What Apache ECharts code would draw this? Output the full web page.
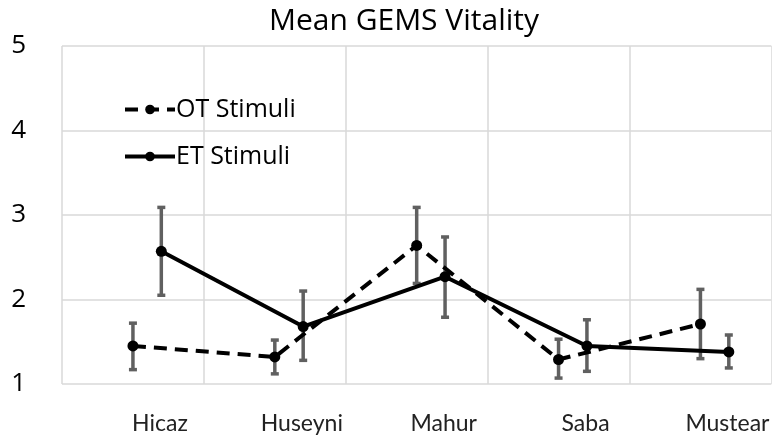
<!DOCTYPE html>
<html>
<head>
<meta charset="utf-8">
<script src="https://cdn.jsdelivr.net/npm/echarts@6/dist/echarts.min.js"></script>
<style>html,body{margin:0;padding:0;background:#fff;}#c{width:772px;height:441px;}</style>
</head>
<body>
<div id="c"></div>
<script>
var categories = ['Hicaz', 'Huseyni', 'Mahur', 'Saba', 'Mustear'];
var otMean = [1.45, 1.32, 2.64, 1.29, 1.71];
var otLow  = [1.17, 1.12, 2.19, 1.07, 1.30];
var otHigh = [1.72, 1.52, 3.09, 1.53, 2.12];
var etMean = [2.57, 1.68, 2.27, 1.45, 1.38];
var etLow  = [2.05, 1.28, 1.79, 1.15, 1.19];
var etHigh = [3.09, 2.10, 2.74, 1.76, 1.58];
var yTicks = [1, 2, 3, 4, 5];

var OT_OFFSET = 0.5, ET_OFFSET = 0.7;
function pts(mean, off) { return mean.map(function (v, i) { return [i + off, v]; }); }
function bars(low, high, off) { return low.map(function (v, i) { return [i + off, v, high[i]]; }); }

function errRender(params, api) {
  var x = api.value(0);
  var lo = api.coord([x, api.value(1)]);
  var hi = api.coord([x, api.value(2)]);
  var cap = 4;
  var st = { stroke: '#606060', lineWidth: 3.5 };
  return {
    type: 'group',
    children: [
      { type: 'line', shape: { x1: lo[0], y1: lo[1], x2: hi[0], y2: hi[1] }, style: st },
      { type: 'line', shape: { x1: lo[0] - cap, y1: lo[1], x2: lo[0] + cap, y2: lo[1] }, style: st },
      { type: 'line', shape: { x1: hi[0] - cap, y1: hi[1], x2: hi[0] + cap, y2: hi[1] }, style: st }
    ]
  };
}

var chart = echarts.init(document.getElementById('c'), null, { renderer: 'canvas' });
chart.setOption({
  animation: false,
  backgroundColor: '#fff',
  title: {
    text: 'Mean GEMS Vitality',
    left: 399, top: 1, textAlign: 'center',
    textStyle: { fontFamily: 'Open Sans', fontSize: 30, fontWeight: 'normal', color: '#000' }
  },
  legend: {
    orient: 'vertical',
    left: 118, top: 92,
    itemWidth: 50, itemHeight: 12, itemGap: 22,
    lineStyle: { width: 4 },
    textStyle: { fontFamily: 'Open Sans', fontSize: 25, color: '#000', padding: [0, 0, 0, -4] },
    data: ['OT Stimuli', 'ET Stimuli']
  },
  grid: { left: 62, right: -4, top: 46, bottom: 57 },
  xAxis: [{
    type: 'value', min: 0, max: 5, interval: 1,
    axisLine: { show: false }, axisTick: { show: false }, axisLabel: { show: false },
    splitLine: { show: true, lineStyle: { color: '#d9d9d9', width: 1.5 } }
  }, {
    type: 'category', data: categories, boundaryGap: true, position: 'bottom',
    axisLine: { show: false }, axisTick: { show: false }, splitLine: { show: false },
    axisLabel: { margin: 28, fontFamily: 'Lato', fontSize: 23, color: '#222', padding: [0, 0, 0, 54] }
  }],
  yAxis: {
    type: 'value', min: yTicks[0], max: yTicks[yTicks.length - 1], interval: 1,
    axisLine: { show: false }, axisTick: { show: false },
    axisLabel: { margin: 36, fontFamily: 'Open Sans', fontSize: 26, color: '#000' },
    splitLine: { show: true, lineStyle: { color: '#d9d9d9', width: 1.5 } }
  },
  series: [{
    type: 'custom', name: 'otErr', xAxisIndex: 0, renderItem: errRender,
    data: bars(otLow, otHigh, OT_OFFSET), z: 1, silent: true
  }, {
    type: 'custom', name: 'etErr', xAxisIndex: 0, renderItem: errRender,
    data: bars(etLow, etHigh, ET_OFFSET), z: 1, silent: true
  }, {
    name: 'OT Stimuli', type: 'line', xAxisIndex: 0, data: pts(otMean, OT_OFFSET),
    symbol: 'circle', symbolSize: 11, z: 3,
    lineStyle: { color: '#000', width: 4, type: [13, 8] },
    itemStyle: { color: '#000' }
  }, {
    name: 'ET Stimuli', type: 'line', xAxisIndex: 0, data: pts(etMean, ET_OFFSET),
    symbol: 'circle', symbolSize: 11, z: 3,
    lineStyle: { color: '#000', width: 4 },
    itemStyle: { color: '#000' }
  }]
});
</script>
</body>
</html>
